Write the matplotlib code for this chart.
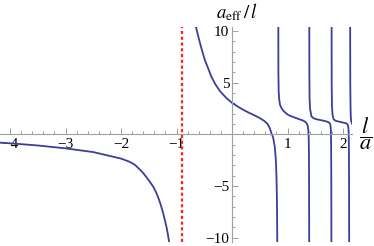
import numpy as np
import matplotlib.pyplot as plt
from matplotlib.ticker import MultipleLocator, FixedLocator

plt.rcParams['mathtext.fontset'] = 'stix'
plt.rcParams['font.family'] = 'Liberation Serif'

# branches of a_eff/l against l/a
b1_x = [-4.18, -4.0, -3.5, -3.0, -2.5, -2.0, -1.85, -1.75, -1.66, -1.6, -1.55, -1.48, -1.42,
        -1.37, -1.32, -1.28, -1.24, -1.21, -1.18, -1.155, -1.135]
b1_y = [-0.81, -0.87, -1.08, -1.36, -1.72, -2.35, -2.65, -2.95, -3.42, -3.75, -4.1, -4.6, -5.07,
        -5.6, -6.25, -6.9, -7.65, -8.3, -9.0, -9.7, -10.4]

b2_x = [-0.65, -0.6, -0.55, -0.49, -0.42, -0.37, -0.3, -0.22, -0.1, 0.0, 0.1, 0.2, 0.3, 0.4,
        0.5, 0.58, 0.64, 0.68, 0.71, 0.74, 0.77, 0.79, 0.80, 0.808, 0.812, 0.815]
b2_y = [10.4, 9.3, 8.3, 7.2, 6.25, 5.55, 4.85, 4.2, 3.5, 3.05, 2.7, 2.38, 2.1, 1.85,
        1.57, 1.3, 1.0, 0.6, 0.1, -0.3, -1.2, -2.5, -4.0, -6.0, -8.0, -10.4]

b3_x = [0.834, 0.835, 0.84, 0.85, 0.865, 0.9, 0.925, 0.97, 1.015, 1.09, 1.165, 1.23, 1.285,
        1.32, 1.345, 1.365, 1.375, 1.382, 1.386, 1.388, 1.39]
b3_y = [10.4, 6.0, 4.2, 3.4, 2.84, 2.45, 2.29, 2.05, 1.87, 1.7, 1.55, 1.43, 1.32,
        1.2, 1.06, 0.8, 0.4, -0.5, -2.0, -5.0, -10.4]

b4_x = [1.392, 1.393, 1.397, 1.405, 1.43, 1.47, 1.53, 1.6, 1.68, 1.74, 1.77, 1.78, 1.785, 1.788, 1.79]
b4_y = [10.4, 6.0, 3.5, 2.5, 1.75, 1.55, 1.45, 1.37, 1.28, 1.17, 1.0, 0.5, -1.0, -4.0, -10.4]

b5_x = [1.794, 1.795, 1.8, 1.81, 1.83, 1.87, 1.95, 2.03, 2.07, 2.09, 2.1, 2.105, 2.108, 2.11]
b5_y = [10.4, 5.0, 2.8, 1.9, 1.45, 1.3, 1.2, 1.1, 1.03, 0.85, 0.4, -1.0, -4.0, -10.4]

b6_x = [2.128, 2.13, 2.135, 2.14, 2.15, 2.16]
b6_y = [10.4, 5.0, 2.5, 1.6, 1.2, 1.05]

pole_x = -0.9

x_major = [-4, -3, -2, -1, 1, 2]
y_major = [-10, -5, 5, 10]

fig = plt.figure(figsize=(3.74, 2.46), dpi=100)
ax = fig.add_axes([0, 0.0175, 0.941, 0.873])
ax.set_xlim(-4.18, 2.16)
ax.set_ylim(-10.4, 10.4)

blue = '#3d3d9c'
for bx, by in [(b1_x, b1_y), (b2_x, b2_y), (b3_x, b3_y), (b4_x, b4_y), (b5_x, b5_y), (b6_x, b6_y)]:
    ax.plot(bx, by, color=blue, lw=1.3, solid_joinstyle='round')

ax.axvline(pole_x, color='#ff2020', lw=1.6, linestyle=(0, (1.4, 1.2)))

for s in ['top', 'right']:
    ax.spines[s].set_visible(False)
ax.spines['left'].set_position(('data', 0))
ax.spines['bottom'].set_position(('data', 0))
for s in ['left', 'bottom']:
    ax.spines[s].set_color('#a0a0a0')
    ax.spines[s].set_linewidth(0.8)

ax.xaxis.set_major_locator(FixedLocator(x_major))
ax.yaxis.set_major_locator(FixedLocator(y_major))
ax.xaxis.set_minor_locator(MultipleLocator(0.2))
ax.yaxis.set_minor_locator(MultipleLocator(1))
ax.set_xticklabels([str(v).replace('-', '\u2212') for v in x_major])
ax.set_yticklabels([str(v).replace('-', '\u2212') for v in y_major])
ax.tick_params(which='both', direction='in', color='#a0a0a0', width=0.7,
               labelsize=11, labelcolor='black')
ax.tick_params(axis='x', pad=3)
ax.tick_params(axis='y', pad=2)
ax.tick_params(which='major', length=4)
ax.tick_params(which='minor', length=2.2)

fig.text(237 / 374, 1 - 12 / 246, r'$a_{\mathrm{eff}}\,/\,l$', fontsize=13.5,
         ha='center', va='center')
fig.text(366 / 374, 1 - 134 / 246, r'$\dfrac{l}{a}$', fontsize=16,
         ha='center', va='center')

fig.savefig('out.png', dpi=100)
